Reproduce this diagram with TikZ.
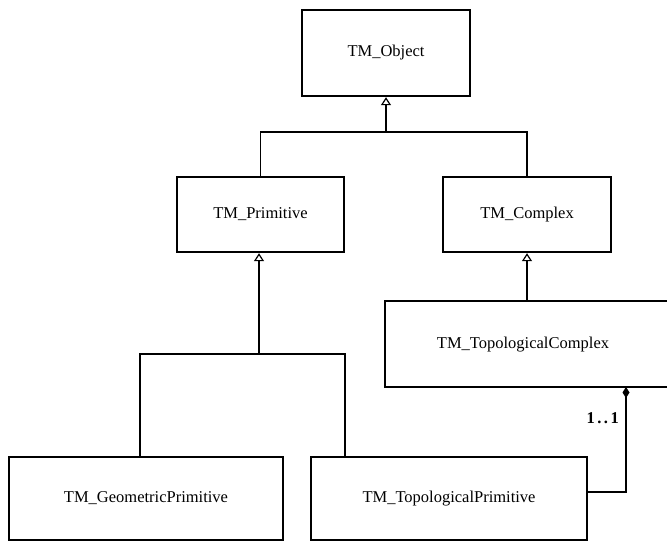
\documentclass[tikz,border=0pt]{standalone}
\usepackage{fontspec}
\setmainfont{Liberation Serif}
\usetikzlibrary{arrows.meta}
\tikzset{
  umlbox/.style={draw=black, line width=2.4pt, fill=white, inner sep=0pt,
    font=\fontsize{16.5}{19}\selectfont},
  umltext/.style={inner sep=0pt, font=\fontsize{16.5}{19}\selectfont},
  conn/.style={draw=black, line width=1.1pt},
  shaft/.style={draw=black, line width=1.6pt, -{Triangle[open, length=8pt, width=10pt, line width=1.2pt]}},
  compo/.style={draw=black, line width=1.1pt, {Diamond[length=11pt, width=7pt]}-},
  mult/.style={inner sep=0pt, font=\fontsize{16.5}{19}\selectfont\bfseries}
}
\begin{document}
\begin{tikzpicture}[x=1pt, y=-1pt]
\useasboundingbox (0,0) rectangle (667,541);
\clip (0,0) rectangle (667,541);
\fill[white] (0,0) rectangle (667,541);

% boxes
\node[umlbox, minimum width=168pt, minimum height=86pt] (obj) at (386,53) {TM\_Object};
\node[umlbox, minimum width=167pt, minimum height=75pt] (prim) at (260.5,214.5) {TM\_Primitive};
\node[umlbox, minimum width=168pt, minimum height=75pt] (comp) at (527,214.5) {TM\_Complex};
\node[umlbox, minimum width=300pt, minimum height=86pt] (tc) at (535,344) {};
\node[umltext] (tctext) at (523,345) {TM\_TopologicalComplex};
\node[umlbox, minimum width=274pt, minimum height=83pt] (gp) at (146,498.5) {TM\_GeometricPrimitive};
\node[umlbox, minimum width=276pt, minimum height=83pt] (tp) at (449,498.5) {TM\_TopologicalPrimitive};

% generalisation: Primitive, Complex -> Object
\coordinate (j1) at (386,132);
\draw[conn] (prim.north) |- (j1) -| (comp.north);
\draw[shaft] (j1) -- (obj.south);

% generalisation: TopologicalComplex -> Complex
\draw[shaft] (tc.north -| comp.south) -- (comp.south);

% generalisation: GeometricPrimitive, TopologicalPrimitive -> Primitive
\coordinate (j2) at (259,354);
\coordinate (gpin) at (140,457);
\coordinate (tpin) at (345,457);
\draw[conn] (gpin) |- (j2) -| (tpin);
\draw[shaft] (j2) -- (j2 |- prim.south);

% composition: TopologicalComplex <>-- TopologicalPrimitive
\coordinate (cd) at (626,387);
\coordinate (cb) at (626,492);
\draw[compo] (cd) -- (cb) -- (cb -| tp.east);
\node[mult, anchor=east] (m1) at (619,418) {1\kern2.5pt.\kern2.5pt.\kern2.5pt1};
\end{tikzpicture}
\end{document}
